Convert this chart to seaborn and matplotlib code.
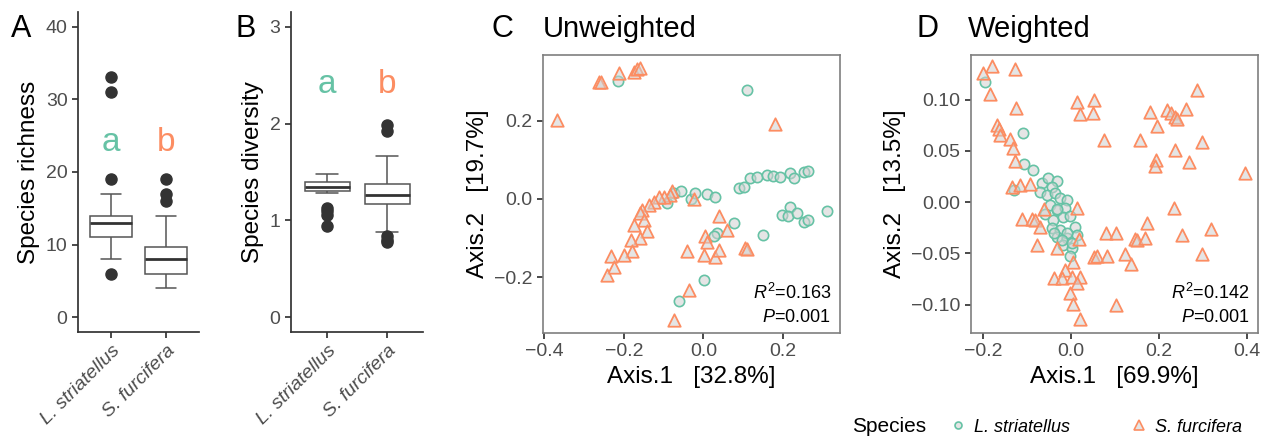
import numpy as np
import pandas as pd
import matplotlib
matplotlib.use("Agg")
import matplotlib.pyplot as plt
from matplotlib.lines import Line2D
import seaborn as sns

# ---- data ----
species = ["L. striatellus", "S. furcifera"]
colors = {"L. striatellus": "#66C2A5", "S. furcifera": "#FC8D62"}
sig_letters = ["a", "b"]

# per-sample alpha diversity (values chosen to reproduce the drawn boxes)
richness_ls = [6, 8, 9, 10, 11, 11, 12, 12, 13, 13, 13, 13, 14, 14, 14, 14, 15, 17, 19, 31, 33]
richness_sf = [4, 5, 5, 6, 6, 6, 6, 7, 7, 8, 8, 8, 9, 9, 9, 9, 10, 12, 14, 16, 17, 19]
diversity_ls = [0.94, 1.06, 1.10, 1.13, 1.28, 1.30, 1.31, 1.33, 1.34, 1.35, 1.35,
                1.36, 1.37, 1.38, 1.39, 1.40, 1.41, 1.42, 1.44, 1.46, 1.48]
diversity_sf = [0.78, 0.80, 0.84, 0.88, 0.92, 1.05, 1.17, 1.19, 1.21, 1.23, 1.24, 1.25,
                1.26, 1.28, 1.30, 1.32, 1.34, 1.36, 1.38, 1.45, 1.55, 1.62, 1.67, 1.92, 1.98]

# PCoA unweighted UniFrac
unw_ls_x = [-0.215, 0.110, -0.074, -0.057, -0.032, -0.020, 0.009, 0.030, -0.091,
            0.089, 0.101, 0.118, 0.135, 0.160, 0.176, 0.193, 0.218, 0.227, 0.252, 0.264,
            0.197, 0.218, 0.214, 0.235, 0.252, 0.264, 0.310, 0.151, 0.076, 0.034, 0.026,
            0.001, -0.062]
unw_ls_y = [0.301, 0.278, 0.014, 0.019, 0.000, 0.014, 0.013, 0.004, -0.011,
            0.027, 0.031, 0.053, 0.057, 0.061, 0.059, 0.057, 0.066, 0.053, 0.070, 0.072,
            -0.041, -0.020, -0.045, -0.037, -0.058, -0.054, -0.030, -0.092, -0.062, -0.088, -0.096,
            -0.207, -0.260]
unw_sf_x = [-0.368, -0.262, -0.258, -0.212, -0.174, -0.166, -0.158, 0.181,
            -0.078, -0.083, -0.099, -0.111, -0.124, -0.137, -0.154, -0.158, -0.149, -0.174,
            -0.141, -0.158, -0.183, -0.179, -0.199, -0.233, -0.224, -0.241, -0.024,
            0.039, 0.005, 0.009, -0.041, 0.001, 0.030, 0.039, 0.059, 0.105, 0.110,
            -0.037, -0.074]
unw_sf_y = [0.202, 0.300, 0.298, 0.321, 0.325, 0.331, 0.336, 0.191,
            0.019, 0.010, 0.006, 0.004, -0.007, -0.015, -0.028, -0.037, -0.054, -0.066,
            -0.083, -0.100, -0.105, -0.134, -0.143, -0.147, -0.173, -0.194, -0.001,
            -0.043, -0.094, -0.109, -0.134, -0.143, -0.149, -0.132, -0.079, -0.126, -0.129,
            -0.232, -0.309]

# PCoA weighted UniFrac
w_ls_x = [-0.197, -0.110, -0.107, -0.086, -0.131,
          -0.066, -0.052, -0.032, -0.043, -0.071, -0.055, -0.036, -0.025, -0.009, -0.048,
          -0.059, -0.032, -0.014, -0.041, -0.018, -0.002, -0.043, -0.025, 0.009, -0.032,
          -0.009, 0.014, -0.018, 0.002, -0.002, -0.033, -0.010, -0.021, 0.002, -0.040]
w_ls_y = [0.117, 0.068, 0.037, 0.031, 0.012,
          0.019, 0.024, 0.021, 0.015, 0.010, 0.007, 0.009, 0.004, 0.002, -0.003,
          -0.012, -0.008, -0.006, -0.017, -0.015, -0.014, -0.025, -0.027, -0.024, -0.034,
          -0.035, -0.032, -0.042, -0.045, -0.053, -0.007, -0.030, -0.037, -0.040, -0.030]
w_sf_x = [-0.200, -0.181, -0.128, -0.185, -0.126, -0.169, -0.165, -0.162, -0.139, -0.133,
          -0.128, -0.135, -0.116, -0.093, -0.112, -0.090, -0.082, -0.072, -0.078, -0.063,
          -0.033, 0.013, 0.017, 0.004, -0.014, -0.040, -0.021, 0.002, 0.019, -0.002,
          0.013, 0.005, 0.021, 0.013, 0.051, 0.020, 0.049, 0.074, 0.051, 0.058,
          0.081, 0.079, 0.102, 0.102, 0.123, 0.136, 0.145, 0.149, 0.169, 0.172,
          0.157, 0.180, 0.195, 0.194, 0.191, 0.218, 0.226, 0.237, 0.241, 0.262,
          0.286, 0.237, 0.267, 0.233, 0.252, 0.298, 0.298, 0.317, 0.396]
w_sf_y = [0.126, 0.133, 0.130, 0.106, 0.092, 0.075, 0.071, 0.066, 0.062, 0.053,
          0.040, 0.015, 0.017, 0.018, -0.016, -0.016, -0.017, -0.024, -0.042, -0.007,
          -0.045, -0.006, -0.036, -0.058, -0.066, -0.074, -0.074, -0.073, -0.073, -0.089,
          -0.079, -0.099, -0.114, 0.098, 0.100, 0.086, 0.087, 0.061, -0.054, -0.053,
          -0.053, -0.030, -0.030, -0.100, -0.051, -0.060, -0.036, -0.037, -0.035, -0.020,
          0.061, 0.088, 0.074, 0.041, 0.035, 0.090, 0.087, 0.083, 0.081, 0.091,
          0.110, 0.051, 0.039, -0.006, -0.032, 0.059, -0.051, -0.026, 0.028]

unw_pct = [32.8, 19.7]
w_pct = [69.9, 13.5]
unw_stats = ["0.163", "0.001"]
w_stats = ["0.142", "0.001"]

# ---- style ----
sns.set_theme(style="ticks")
plt.rcParams["font.family"] = ["Liberation Sans", "DejaVu Sans"]
plt.rcParams["text.color"] = "black"
plt.rcParams["mathtext.fontset"] = "custom"
plt.rcParams["mathtext.it"] = "Liberation Sans:italic"
plt.rcParams["mathtext.rm"] = "Liberation Sans"
TICK_GREY = "#4D4D4D"
FILL = (0.82, 0.82, 0.82, 0.55)

fig = plt.figure(figsize=(12.74, 4.41), dpi=100)
W, H = 1274, 441


def px_axes(left, top, right, bottom):
    return fig.add_axes([left / W, 1 - bottom / H, (right - left) / W, (bottom - top) / H])


def box_panel(ax, ls_vals, sf_vals, ylab, ylim, yticks, letter_y):
    df = pd.DataFrame({
        "Species": [species[0]] * len(ls_vals) + [species[1]] * len(sf_vals),
        "value": ls_vals + sf_vals,
    })
    sns.boxplot(data=df, x="Species", y="value", order=species, ax=ax,
                color="white", linecolor="#555555", linewidth=1.1, width=0.75,
                medianprops=dict(color="#333333", linewidth=2),
                flierprops=dict(marker="o", markerfacecolor="#333333",
                                markeredgecolor="#333333", markersize=8))
    for i, sp in enumerate(species):
        ax.text(i, letter_y, sig_letters[i], color=colors[sp], fontsize=24,
                ha="center", va="center")
    ax.set_xlim(-0.6, 1.6)
    ax.set_ylim(*ylim)
    ax.set_yticks(yticks)
    ax.set_xlabel("")
    ax.set_ylabel(ylab, fontsize=17.5, color="black")
    ax.set_xticks(range(2))
    ax.set_xticklabels(species, rotation=45, ha="right", rotation_mode="anchor",
                       style="italic", fontsize=14, color=TICK_GREY)
    ax.tick_params(axis="y", labelsize=14, labelcolor=TICK_GREY, length=4, color="#333333")
    ax.tick_params(axis="x", length=4, color="#333333")
    for s in ["left", "bottom"]:
        ax.spines[s].set_color("#333333")
    sns.despine(ax=ax)


def pcoa_panel(ax, lsx, lsy, sfx, sfy, pct, stats, xlim, ylim, xticks, yticks, fmt):
    sns.scatterplot(x=lsx, y=lsy, ax=ax, marker="o", s=55, facecolor=FILL,
                    edgecolor=colors[species[0]], linewidth=1.2, legend=False)
    sns.scatterplot(x=sfx, y=sfy, ax=ax, marker="^", s=80, facecolor=FILL,
                    edgecolor=colors[species[1]], linewidth=1.3, legend=False)
    ax.set_xlim(*xlim)
    ax.set_ylim(*ylim)
    ax.set_xticks(xticks)
    ax.set_yticks(yticks)
    ax.set_xticklabels([f"{t:.1f}".replace("-", "\u2212") for t in xticks])
    ax.set_yticklabels([fmt.format(t).replace("-", "\u2212") for t in yticks])
    ax.set_xlabel(f"Axis.1   [{pct[0]}%]", fontsize=17.5, color="black")
    ax.set_ylabel(f"Axis.2   [{pct[1]}%]", fontsize=17.5, color="black")
    ax.tick_params(labelsize=14, labelcolor=TICK_GREY, length=4, color="#333333")
    for s in ax.spines.values():
        s.set_color("#7F7F7F")
        s.set_linewidth(1.2)
    ax.text(0.97, 0.145, "$R^2$=" + stats[0], transform=ax.transAxes,
            ha="right", va="center", fontsize=13)
    ax.text(0.97, 0.055, "$P$=" + stats[1], transform=ax.transAxes,
            ha="right", va="center", fontsize=13)


ax_a = px_axes(78, 12, 199, 332)
box_panel(ax_a, richness_ls, richness_sf, "Species richness", (-2, 42), [0, 10, 20, 30, 40], 24)

ax_b = px_axes(291, 12, 423, 332)
box_panel(ax_b, diversity_ls, diversity_sf, "Species diversity", (-0.15, 3.15), [0, 1, 2, 3], 2.4)

ax_c = px_axes(543, 55, 840, 333)
pcoa_panel(ax_c, unw_ls_x, unw_ls_y, unw_sf_x, unw_sf_y, unw_pct, unw_stats,
           (-0.403, 0.3435), (-0.343, 0.368), [-0.4, -0.2, 0.0, 0.2], [-0.2, 0.0, 0.2], "{:.1f}")

ax_d = px_axes(971, 55, 1258, 333)
pcoa_panel(ax_d, w_ls_x, w_ls_y, w_sf_x, w_sf_y, w_pct, w_stats,
           (-0.228, 0.425), (-0.1278, 0.1437), [-0.2, 0.0, 0.2, 0.4],
           [-0.10, -0.05, 0.0, 0.05, 0.10], "{:.2f}")

# panel letters and titles
for x, lab in [(11, "A"), (236, "B"), (491, "C"), (916, "D")]:
    fig.text(x / W, 1 - 37 / H, lab, fontsize=22, ha="left", va="baseline", color="black")
fig.text(543 / W, 1 - 37 / H, "Unweighted", fontsize=21, ha="left", va="baseline", color="black")
fig.text(968 / W, 1 - 37 / H, "Weighted", fontsize=21, ha="left", va="baseline", color="black")

# legend
fig.text(852 / W, 1 - 427 / H, "Species", fontsize=15, ha="left", va="center", color="black")
handles = [
    Line2D([], [], ls="", marker="o", markersize=5, markerfacecolor=FILL,
           markeredgecolor=colors[species[0]], markeredgewidth=1.2),
    Line2D([], [], ls="", marker="^", markersize=7, markerfacecolor=FILL,
           markeredgecolor=colors[species[1]], markeredgewidth=1.2),
]
fig.legend(handles, species, ncol=2, frameon=False, loc="center left",
           bbox_to_anchor=(940 / W, 1 - 427 / H), prop={"style": "italic", "size": 13},
           handletextpad=0.3, columnspacing=3.2, handlelength=1.2, borderaxespad=0)

fig.savefig("out.png", dpi=100, facecolor="white")
